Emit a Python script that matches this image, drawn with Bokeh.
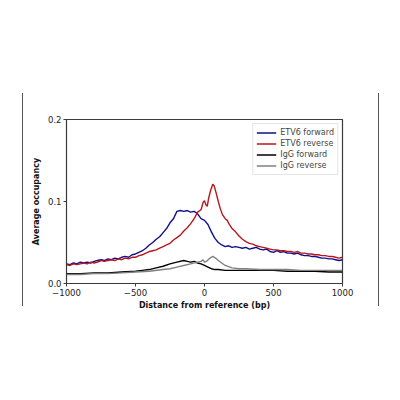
from bokeh.plotting import figure
from bokeh.models import (Range1d, FixedTicker, NumeralTickFormatter, Legend, LegendItem, Div)
from bokeh.layouts import row
from bokeh.embed import file_html
from bokeh.resources import INLINE

# ETV6 forward
etv6_fwd_bp = [-1000, -975, -950, -925, -900, -875, -850, -825, -800, -775, -750, -725, -700,
               -675, -650, -625, -600, -575, -550, -525, -500, -475, -450, -425, -400, -375,
               -350, -325, -300, -275, -250, -225, -200, -175, -150, -125, -100, -75, -50,
               -25, 0, 25, 50, 75, 100, 125, 150, 175, 200, 225, 250, 275, 300, 325, 350,
               375, 400, 425, 450, 475, 500, 525, 550, 575, 600, 625, 650, 675, 700, 725,
               750, 775, 800, 825, 850, 875, 900, 925, 950, 975, 1000]
etv6_fwd = [0.024, 0.023, 0.025, 0.024, 0.026, 0.025, 0.026, 0.025, 0.027, 0.028, 0.029, 0.028,
            0.030, 0.029, 0.031, 0.030, 0.032, 0.033, 0.032, 0.035, 0.036, 0.038, 0.040, 0.043,
            0.047, 0.050, 0.054, 0.057, 0.062, 0.067, 0.074, 0.079, 0.088, 0.089, 0.088, 0.089,
            0.087, 0.088, 0.085, 0.079, 0.077, 0.072, 0.063, 0.055, 0.050, 0.047, 0.045, 0.046,
            0.044, 0.045, 0.044, 0.043, 0.044, 0.042, 0.043, 0.044, 0.042, 0.041, 0.042, 0.039,
            0.038, 0.040, 0.038, 0.039, 0.037, 0.037, 0.036, 0.037, 0.035, 0.034, 0.034, 0.033,
            0.033, 0.032, 0.031, 0.031, 0.030, 0.030, 0.029, 0.028, 0.029]

# ETV6 reverse
etv6_rev_bp = [-1000, -975, -950, -925, -900, -875, -850, -825, -800, -775, -750, -725, -700,
               -675, -650, -625, -600, -575, -550, -525, -500, -475, -450, -425, -400, -375,
               -350, -325, -300, -275, -250, -225, -200, -175, -150, -125, -100, -75, -50,
               -25, -10, 0, 10, 20, 30, 45, 60, 70, 85, 100, 115, 130, 150, 165, 180, 200,
               225, 250, 275, 300, 325, 350, 375, 400, 425, 450, 475, 500, 525, 550, 575,
               600, 625, 650, 675, 700, 725, 750, 775, 800, 825, 850, 875, 900, 925, 950,
               975, 1000]
etv6_rev = [0.023, 0.022, 0.024, 0.023, 0.024, 0.025, 0.024, 0.026, 0.025, 0.026, 0.028, 0.027,
            0.028, 0.029, 0.028, 0.030, 0.029, 0.031, 0.030, 0.032, 0.032, 0.034, 0.035, 0.037,
            0.039, 0.040, 0.041, 0.043, 0.045, 0.047, 0.049, 0.053, 0.056, 0.059, 0.064, 0.068,
            0.073, 0.079, 0.087, 0.090, 0.099, 0.101, 0.096, 0.094, 0.104, 0.114, 0.121, 0.119,
            0.110, 0.100, 0.091, 0.084, 0.079, 0.077, 0.072, 0.067, 0.063, 0.058, 0.054, 0.051,
            0.049, 0.048, 0.046, 0.045, 0.044, 0.043, 0.042, 0.041, 0.041, 0.040, 0.040, 0.039,
            0.039, 0.038, 0.039, 0.037, 0.037, 0.036, 0.036, 0.035, 0.035, 0.034, 0.034, 0.033,
            0.033, 0.032, 0.031, 0.032]

# IgG forward
igg_fwd_bp = [-1000, -900, -800, -700, -600, -500, -450, -400, -350, -300, -250, -200, -150,
              -125, -100, -75, -50, -25, 0, 25, 50, 75, 100, 150, 200, 300, 400, 500, 600,
              700, 800, 900, 1000]
igg_fwd = [0.012, 0.012, 0.013, 0.013, 0.014, 0.015, 0.016, 0.017, 0.019, 0.021, 0.024, 0.026,
           0.028, 0.027, 0.026, 0.027, 0.025, 0.024, 0.022, 0.020, 0.018, 0.017, 0.017, 0.016,
           0.016, 0.016, 0.016, 0.016, 0.015, 0.015, 0.015, 0.014, 0.014]

# IgG reverse
igg_rev_bp = [-1000, -900, -800, -700, -600, -500, -400, -300, -250, -200, -150, -100, -50,
              -25, -10, 0, 15, 40, 60, 80, 100, 125, 150, 200, 250, 300, 400, 500, 600, 700,
              800, 900, 1000]
igg_rev = [0.011, 0.011, 0.012, 0.012, 0.013, 0.014, 0.015, 0.017, 0.018, 0.020, 0.022, 0.024,
           0.026, 0.027, 0.029, 0.026, 0.027, 0.031, 0.033, 0.031, 0.028, 0.025, 0.022, 0.019,
           0.018, 0.018, 0.017, 0.017, 0.017, 0.016, 0.016, 0.016, 0.016]

x_ticks = [-1000, -500, 0, 500, 1000]
y_ticks = [0.0, 0.1, 0.2]

FONT = "DejaVu Sans"
EDGE = "#3a3a3a"

p = figure(width=354, height=400, output_backend="svg", toolbar_location=None,
           x_range=Range1d(-1000, 1000), y_range=Range1d(0, 0.2),
           min_border_left=43, min_border_right=35, min_border_top=119, min_border_bottom=117,
           margin=0)
p.grid.visible = False
p.outline_line_color = EDGE
p.outline_line_width = 1.2
p.background_fill_color = "white"
p.border_fill_color = "white"

for ax in (p.xaxis[0], p.yaxis[0]):
    ax.axis_line_color = None
    ax.major_tick_line_color = EDGE
    ax.major_tick_in = 0
    ax.major_tick_out = 3
    ax.minor_tick_line_color = None
    ax.major_label_text_font = FONT
    ax.major_label_text_font_size = "8.5px"
    ax.major_label_text_color = "#222222"
    ax.axis_label_text_font = FONT
    ax.axis_label_text_font_size = "8px"
    ax.axis_label_text_font_style = "bold"
    ax.axis_label_text_color = "#111111"
    ax.major_label_standoff = 2

p.xaxis.ticker = FixedTicker(ticks=x_ticks)
p.xaxis.major_label_overrides = {t: (str(t).replace("-", "\u2212")) for t in x_ticks}
p.xaxis.axis_label = "Distance from reference (bp)"
p.xaxis.axis_label_standoff = 2
p.yaxis.ticker = FixedTicker(ticks=y_ticks)
p.yaxis.formatter = NumeralTickFormatter(format="0.0")
p.yaxis.axis_label = "Average occupancy"
p.yaxis.axis_label_standoff = 4

r1 = p.line(etv6_fwd_bp, etv6_fwd, line_color="#10108a", line_width=1.4)
r2 = p.line(etv6_rev_bp, etv6_rev, line_color="#b8161c", line_width=1.4)
r3 = p.line(igg_fwd_bp, igg_fwd, line_color="#000000", line_width=1.4)
r4 = p.line(igg_rev_bp, igg_rev, line_color="#808080", line_width=1.4)

legend = Legend(items=[LegendItem(label="ETV6 forward", renderers=[r1]),
                       LegendItem(label="ETV6 reverse", renderers=[r2]),
                       LegendItem(label="IgG forward", renderers=[r3]),
                       LegendItem(label="IgG reverse", renderers=[r4])],
                location="top_right", label_text_font=FONT, label_text_font_size="8px",
                label_height=11, glyph_height=11, glyph_width=20, spacing=0, padding=3,
                margin=4, label_standoff=4, border_line_color="#cccccc",
                background_fill_alpha=1)
p.add_layout(legend)

# decorative side rules of the original figure
left_rule = Div(text="", width=22, height=213, margin=(93, 0, 0, 0),
                styles={"border-right": "1.5px solid #555555", "box-sizing": "content-box"})
right_rule = Div(text="", width=22, height=213, margin=(93, 0, 0, 1),
                 styles={"border-left": "1.5px solid #555555", "box-sizing": "content-box"})

layout = row(left_rule, p, right_rule, spacing=0)
open("out.html", "w").write(file_html(layout, INLINE))
